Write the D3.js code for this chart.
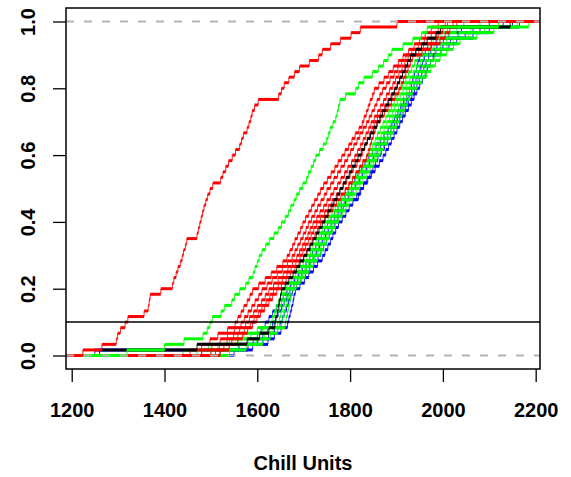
<!DOCTYPE html>
<html>
<head>
<meta charset="utf-8">
<script src="https://cdn.jsdelivr.net/npm/d3@7"></script>
<style>
  html, body { margin: 0; padding: 0; background: #fff; }
  svg { display: block; }
  text { font-family: "Liberation Sans", Arial, Helvetica, sans-serif; font-weight: bold; fill: #000; }
</style>
</head>
<body>
<div id="chart"></div>
<script>
const xTicks = [1200, 1400, 1600, 1800, 2000, 2200];
const yTicks = [0, 0.2, 0.4, 0.6, 0.8, 1.0];
const xLabel = "Chill Units";
const refLine = 0.1;

const red1 = [1224,1265,1296,1299,1305,1315,1321,1356,1365,1367,1369,1392,1417,1420,1425,1429,1434,1438,1441,1445,1448,1470,1473,1476,1479,1482,1485,1489,1493,1498,1504,1521,1526,1532,1538,1546,1553,1562,1566,1570,1578,1582,1586,1589,1594,1602,1646,1652,1658,1668,1680,1691,1712,1732,1740,1758,1779,1802,1822,1901];
const green1 = [1319,1400,1442,1483,1492,1498,1503,1522,1529,1545,1551,1562,1575,1582,1591,1595,1600,1604,1610,1618,1626,1636,1645,1652,1660,1667,1672,1679,1684,1691,1698,1706,1710,1716,1721,1726,1734,1742,1749,1753,1757,1763,1769,1772,1775,1778,1790,1812,1818,1830,1848,1861,1872,1882,1890,1914,1935,1954,1966,2120];
const red2 = [1455,1480,1498,1515,1536,1552,1558,1565,1571,1578,1584,1590,1603,1617,1630,1642,1655,1664,1670,1676,1681,1687,1693,1698,1704,1711,1717,1723,1730,1736,1743,1751,1759,1767,1774,1782,1789,1797,1804,1811,1819,1826,1830,1835,1839,1843,1848,1852,1862,1873,1883,1893,1904,1914,1926,1938,1950,1962,1975,1990];
const red3 = [1480,1502,1520,1536,1551,1565,1572,1580,1588,1595,1603,1610,1621,1632,1643,1654,1665,1675,1681,1687,1693,1699,1705,1710,1717,1724,1730,1737,1744,1750,1758,1765,1773,1780,1788,1795,1801,1808,1815,1821,1828,1835,1841,1847,1853,1858,1864,1870,1878,1886,1895,1903,1911,1920,1933,1947,1960,1975,1990,2010];
const red4 = [1500,1518,1535,1549,1562,1575,1583,1592,1600,1609,1617,1625,1635,1645,1656,1666,1676,1685,1691,1697,1703,1709,1714,1720,1728,1735,1743,1750,1758,1765,1773,1780,1788,1795,1803,1810,1816,1822,1828,1834,1840,1845,1852,1859,1865,1872,1878,1885,1892,1898,1905,1912,1918,1925,1941,1958,1975,1987,2000,2022];
const red5 = [1510,1528,1545,1558,1572,1585,1593,1602,1610,1619,1627,1635,1645,1654,1664,1673,1683,1692,1698,1704,1710,1716,1722,1728,1736,1745,1753,1761,1770,1778,1785,1793,1800,1807,1815,1822,1827,1832,1837,1842,1847,1852,1859,1866,1874,1881,1888,1895,1901,1907,1913,1918,1924,1930,1948,1967,1985,1990,1995,2005];
const red6 = [1520,1539,1557,1568,1579,1590,1599,1607,1616,1625,1633,1642,1652,1662,1671,1681,1690,1700,1706,1712,1718,1724,1730,1736,1745,1754,1763,1771,1780,1789,1797,1805,1812,1820,1827,1835,1839,1843,1846,1850,1854,1858,1866,1874,1882,1889,1897,1905,1910,1915,1920,1925,1930,1935,1955,1974,1994,2005,2015,2030];
const black1 = [1260,1470,1578,1605,1625,1638,1640,1643,1645,1647,1650,1652,1660,1668,1677,1685,1692,1700,1707,1714,1720,1727,1733,1740,1746,1752,1759,1765,1772,1778,1785,1791,1798,1804,1811,1817,1824,1831,1837,1844,1851,1858,1864,1870,1877,1883,1890,1896,1902,1907,1913,1919,1924,1930,1942,1954,1966,1985,1995,2145];
const green2 = [1440,1495,1540,1571,1600,1628,1632,1637,1641,1646,1650,1655,1664,1673,1682,1690,1699,1707,1714,1720,1727,1733,1740,1746,1753,1761,1768,1775,1783,1790,1798,1805,1813,1821,1828,1836,1842,1848,1854,1859,1865,1871,1877,1883,1889,1895,1901,1907,1913,1920,1926,1933,1939,1946,1957,1968,1979,1994,2010,2045];
const green3 = [1470,1515,1560,1586,1611,1636,1640,1644,1648,1652,1656,1660,1669,1678,1687,1695,1704,1713,1720,1726,1733,1739,1746,1752,1759,1767,1774,1781,1789,1796,1804,1812,1819,1827,1834,1842,1848,1854,1860,1867,1873,1879,1885,1891,1896,1902,1908,1914,1921,1929,1936,1943,1951,1958,1969,1981,1992,2011,2030,2080];
const green4 = [1500,1540,1580,1601,1623,1644,1648,1651,1655,1658,1662,1665,1674,1683,1692,1701,1710,1719,1725,1732,1738,1744,1751,1757,1765,1772,1780,1787,1795,1802,1810,1818,1825,1833,1840,1848,1854,1861,1867,1873,1880,1886,1892,1898,1904,1909,1915,1921,1929,1937,1945,1954,1962,1970,1983,1995,2008,2034,2060,2120];
const green5 = [1520,1559,1598,1616,1634,1652,1655,1658,1661,1664,1667,1670,1679,1688,1697,1706,1715,1724,1731,1737,1744,1750,1757,1763,1770,1778,1785,1792,1800,1807,1815,1823,1830,1838,1845,1853,1860,1867,1874,1880,1887,1894,1900,1905,1911,1917,1922,1928,1937,1946,1955,1964,1973,1982,1995,2009,2022,2056,2090,2160];
const green6 = [1540,1576,1612,1628,1644,1660,1662,1665,1667,1670,1672,1675,1684,1693,1703,1712,1721,1730,1736,1743,1749,1755,1762,1768,1776,1783,1791,1798,1806,1813,1821,1828,1836,1843,1851,1858,1865,1872,1880,1887,1894,1901,1907,1912,1918,1924,1929,1935,1945,1955,1965,1974,1984,1994,2008,2023,2037,2073,2110,2185];
const blue1 = [1250,1560,1591,1600,1608,1617,1625,1633,1641,1648,1656,1664,1672,1680,1689,1697,1705,1713,1719,1726,1732,1738,1745,1751,1759,1766,1774,1781,1789,1796,1803,1810,1817,1825,1832,1839,1848,1856,1865,1873,1882,1890,1896,1903,1909,1915,1922,1928,1932,1935,1939,1943,1946,1950,1962,1975,1987,2013,2040,2100];
const blue2 = [1480,1560,1601,1612,1622,1633,1639,1645,1652,1658,1664,1670,1679,1687,1696,1705,1713,1722,1728,1734,1741,1747,1753,1759,1767,1774,1782,1789,1797,1804,1812,1820,1827,1835,1842,1850,1858,1865,1873,1881,1888,1896,1902,1908,1914,1921,1927,1933,1938,1942,1947,1951,1956,1960,1974,1987,2001,2033,2065,2130];
const blue3 = [1520,1580,1612,1624,1637,1649,1654,1658,1663,1667,1672,1676,1685,1694,1704,1713,1722,1731,1737,1743,1749,1755,1761,1767,1774,1781,1786,1790,1818,1823,1829,1836,1843,1849,1855,1860,1867,1874,1881,1887,1894,1901,1907,1914,1920,1926,1933,1939,1944,1949,1954,1959,1964,1969,1985,2000,2016,2048,2080,2150];
const blue4 = [1550,1590,1623,1637,1651,1665,1668,1671,1674,1677,1679,1682,1692,1702,1711,1721,1730,1740,1746,1752,1758,1763,1769,1775,1783,1791,1798,1806,1814,1821,1829,1838,1846,1854,1863,1871,1877,1883,1889,1895,1901,1907,1913,1919,1926,1932,1938,1944,1950,1956,1962,1967,1973,1979,1996,2013,2030,2065,2100,2165];

// draw order (last on top) and colours
const seriesList = [
  {values: blue1, color: "#0000FF"}, {values: green2, color: "#00FF00"}, {values: blue2, color: "#0000FF"},
  {values: green3, color: "#00FF00"}, {values: red2, color: "#FF0000"}, {values: blue3, color: "#0000FF"},
  {values: green4, color: "#00FF00"}, {values: red3, color: "#FF0000"}, {values: blue4, color: "#0000FF"},
  {values: green5, color: "#00FF00"}, {values: green6, color: "#00FF00"},
  {values: red4, color: "#FF0000"}, {values: red5, color: "#FF0000"}, {values: red6, color: "#FF0000"},
  {values: black1, color: "#000000"},
  {values: green1, color: "#00FF00"}, {values: red1, color: "#FF0000"}
];

// ---------------- layout ----------------
const W = 571, H = 477;
const plot = {left: 66, right: 540, top: 8, bottom: 369};

const x = d3.scaleLinear().domain([1187.7, 2209.3]).range([plot.left, plot.right]);
const y = d3.scaleLinear().domain([-0.0404, 1.0404]).range([plot.bottom, plot.top]);

const svg = d3.select("#chart").append("svg").attr("width", W).attr("height", H);
svg.append("rect").attr("width", W).attr("height", H).attr("fill", "#fff");

svg.append("clipPath").attr("id", "clip").append("rect")
  .attr("x", plot.left).attr("y", plot.top)
  .attr("width", plot.right - plot.left).attr("height", plot.bottom - plot.top);

const g = svg.append("g").attr("clip-path", "url(#clip)");

function ecdfSteps(values) {
  const v = values.slice().sort(d3.ascending);
  const n = v.length;
  const uniq = [];
  v.forEach(d => {
    if (uniq.length && uniq[uniq.length - 1].x === d) uniq[uniq.length - 1].c++;
    else uniq.push({x: d, c: 1});
  });
  const hor = [], ver = [];
  let cum = 0;
  const [x0, x1] = x.domain();
  hor.push({xa: x0, xb: uniq[0].x, p: 0});
  uniq.forEach((u, i) => {
    const prev = cum / n;
    cum += u.c;
    const p = cum / n;
    ver.push({x: u.x, pa: prev, pb: p});
    const nextX = i < uniq.length - 1 ? uniq[i + 1].x : x1;
    hor.push({xa: u.x, xb: nextX, p: p});
  });
  return {hor, ver};
}

seriesList.forEach(s => {
  const st = ecdfSteps(s.values);
  const sg = g.append("g");
  sg.selectAll("line.v").data(st.ver).enter().append("line")
    .attr("x1", d => x(d.x)).attr("x2", d => x(d.x))
    .attr("y1", d => y(d.pa)).attr("y2", d => y(d.pb))
    .attr("stroke", s.color).attr("stroke-width", 1).attr("stroke-opacity", 0.85);
  sg.selectAll("line.h").data(st.hor).enter().append("line")
    .attr("x1", d => x(d.xa)).attr("x2", d => x(d.xb))
    .attr("y1", d => y(d.p)).attr("y2", d => y(d.p))
    .attr("stroke", s.color).attr("stroke-width", 3);
});

// gray dashed lines at 0 and 1
g.selectAll("line.ref").data([0, 1]).enter().append("line")
  .attr("x1", plot.left).attr("x2", plot.right)
  .attr("y1", d => y(d)).attr("y2", d => y(d))
  .attr("stroke", "#B3B3B3").attr("stroke-width", 2).attr("stroke-dasharray", "8,10");

// horizontal reference line
g.append("line")
  .attr("x1", plot.left).attr("x2", plot.right)
  .attr("y1", y(refLine)).attr("y2", y(refLine))
  .attr("stroke", "#000").attr("stroke-width", 1.5);

// box
svg.append("rect")
  .attr("x", plot.left).attr("y", plot.top)
  .attr("width", plot.right - plot.left).attr("height", plot.bottom - plot.top)
  .attr("fill", "none").attr("stroke", "#000").attr("stroke-width", 1.5);

// x axis
const xAxis = svg.append("g").attr("transform", `translate(0,${plot.bottom})`)
  .call(d3.axisBottom(x).tickValues(xTicks).tickSize(13).tickPadding(6).tickFormat(d3.format("d")));
xAxis.select(".domain").remove();
xAxis.selectAll(".tick line").attr("stroke", "#000").attr("stroke-width", 1.3);
xAxis.selectAll(".tick text").attr("font-size", 20).attr("dy", null).attr("y", 48)
  .style("font-family", '"Liberation Sans", Arial, sans-serif').style("font-weight", "bold").attr("fill", "#000");

// y axis
const yAxis = svg.append("g").attr("transform", `translate(${plot.left},0)`)
  .call(d3.axisLeft(y).tickValues(yTicks).tickSize(13).tickFormat(d3.format(".1f")));
yAxis.select(".domain").remove();
yAxis.selectAll(".tick line").attr("stroke", "#000").attr("stroke-width", 1.3);
yAxis.selectAll(".tick text")
  .attr("font-size", 20).attr("dy", null).attr("x", 0).attr("y", -31)
  .attr("text-anchor", "middle").attr("transform", "rotate(-90)")
  .style("font-family", '"Liberation Sans", Arial, sans-serif').style("font-weight", "bold").attr("fill", "#000");

// x label
svg.append("text").attr("x", (plot.left + plot.right) / 2).attr("y", 470)
  .attr("text-anchor", "middle").attr("font-size", 20).text(xLabel);
</script>
</body>
</html>
